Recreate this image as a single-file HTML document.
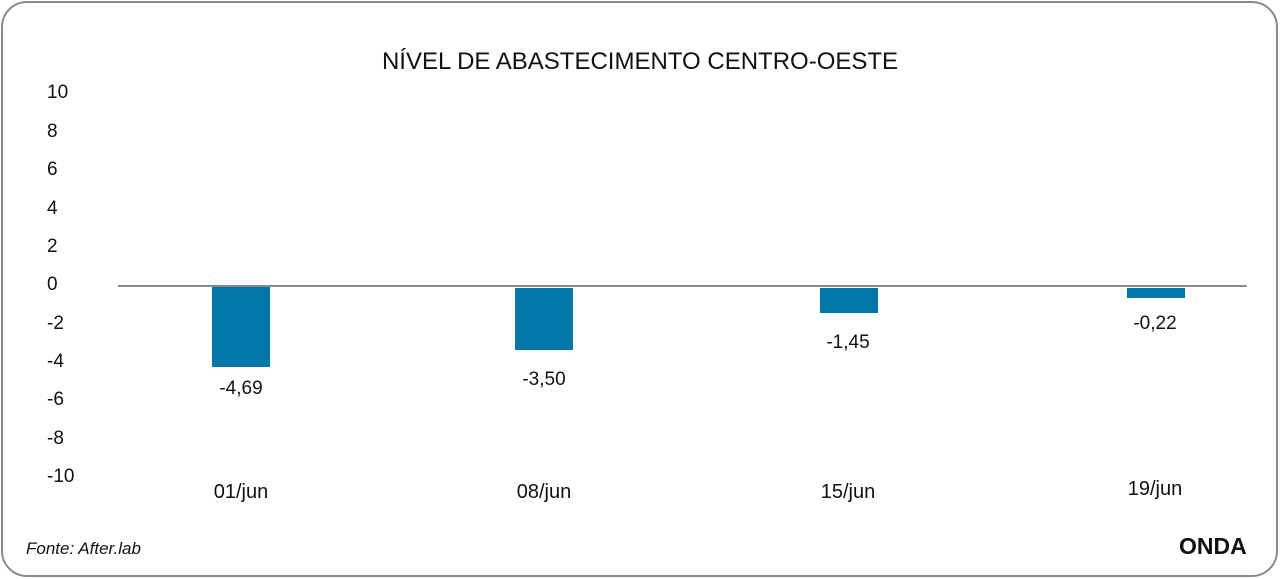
<!DOCTYPE html>
<html><head><meta charset="utf-8"><style>
body{margin:0;width:1280px;height:579px;background:#fff;position:relative;overflow:hidden;font-family:"Liberation Sans",sans-serif;color:#111}
.box{position:absolute;left:1px;top:1px;width:1273px;height:572px;border:2.5px solid #8a8a8a;border-radius:26px}
.t{position:absolute;white-space:nowrap}
.y{position:absolute;left:47px;font-size:19px;line-height:20px}
.bar{position:absolute;background:#0077a6;width:58px}
.v{position:absolute;font-size:19px;width:120px;text-align:center}
.x{position:absolute;font-size:20px;width:140px;text-align:center;top:481px}
</style></head><body>
<div class="box"></div>
<div class="t" style="left:0;width:1280px;text-align:center;top:48px;font-size:24px;">NÍVEL DE ABASTECIMENTO CENTRO-OESTE</div>
<div class="y" style="top:83px">10</div>
<div class="y" style="top:122px">8</div>
<div class="y" style="top:160px">6</div>
<div class="y" style="top:199px">4</div>
<div class="y" style="top:237px">2</div>
<div class="y" style="top:275px">0</div>
<div class="y" style="top:314px">-2</div>
<div class="y" style="top:352px">-4</div>
<div class="y" style="top:390px">-6</div>
<div class="y" style="top:429px">-8</div>
<div class="y" style="top:467px">-10</div>
<div style="position:absolute;left:118px;top:285px;width:1129px;height:2px;background:#8a8a8a"></div>
<div class="bar" style="left:212px;top:287px;height:80px"></div>
<div class="bar" style="left:515px;top:288px;height:62px"></div>
<div class="bar" style="left:820px;top:288px;height:25px"></div>
<div class="bar" style="left:1127px;top:288px;height:10px"></div>
<div class="v" style="left:181px;top:378px">-4,69</div>
<div class="v" style="left:484px;top:369px">-3,50</div>
<div class="v" style="left:788px;top:332px">-1,45</div>
<div class="v" style="left:1095px;top:313px">-0,22</div>
<div class="x" style="left:171px">01/jun</div>
<div class="x" style="left:474px">08/jun</div>
<div class="x" style="left:778px">15/jun</div>
<div class="x" style="left:1085px;top:478px">19/jun</div>
<div class="t" style="left:26px;top:539px;font-size:17px;font-style:italic">Fonte: After.lab</div>
<div class="t" style="left:1179px;top:533px;font-size:23px;font-weight:bold;letter-spacing:0px">ONDA</div>
</body></html>
